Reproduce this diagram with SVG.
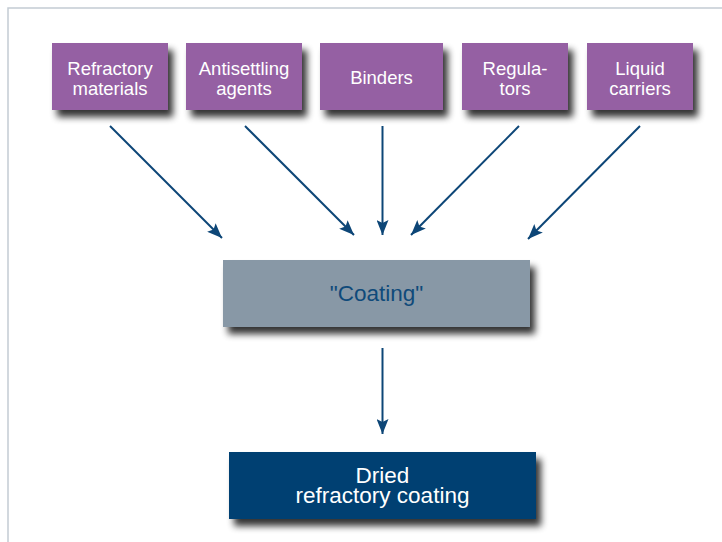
<svg xmlns="http://www.w3.org/2000/svg" width="722" height="542" viewBox="0 0 722 542">
  <defs>
    <filter id="shadow" x="-10%" y="-20%" width="130%" height="170%">
      <feGaussianBlur in="SourceAlpha" stdDeviation="3.5"/>
      <feOffset dx="5" dy="7" result="blur"/>
      <feComponentTransfer><feFuncA type="linear" slope="0.8"/></feComponentTransfer>
      <feMerge><feMergeNode/><feMergeNode in="SourceGraphic"/></feMerge>
    </filter>
    <marker id="arrow" viewBox="0 0 15 12" refX="15" refY="6" markerWidth="15" markerHeight="12" markerUnits="userSpaceOnUse" orient="auto">
      <path d="M0,0 L15,6 L0,12 L3,6 Z" fill="#0d4677"/>
    </marker>
    <style>
      .src rect { fill: #9560a3; filter: url(#shadow); }
      .src text { fill: #ffffff; font-family: "Liberation Sans", Arial, sans-serif; font-size: 18.5px; text-anchor: middle; }
      .mid rect { fill: #8898a6; filter: url(#shadow); }
      .mid text { fill: #0f4a7a; font-family: "Liberation Sans", Arial, sans-serif; font-size: 22.5px; text-anchor: middle; }
      .out rect { fill: #003f72; filter: url(#shadow); }
      .out text { fill: #ffffff; font-family: "Liberation Sans", Arial, sans-serif; font-size: 22.5px; text-anchor: middle; }
      .link { stroke: #0d4677; stroke-width: 2; fill: none; marker-end: url(#arrow); }
      .frame { stroke: #c3ccd4; stroke-width: 1.5; fill: none; }
    </style>
  </defs>

  <rect width="722" height="542" fill="#ffffff"/>
  <path class="frame" d="M8,542 V8 H722"/>

  <!-- input components -->
  <g id="refractory" class="src">
    <rect x="52" y="43" width="116" height="67"/>
    <text x="110" y="75">Refractory</text>
    <text x="110" y="95">materials</text>
  </g>
  <g id="antisettling" class="src">
    <rect x="186" y="43" width="116" height="67"/>
    <text x="244" y="75">Antisettling</text>
    <text x="244" y="95">agents</text>
  </g>
  <g id="binders" class="src">
    <rect x="320" y="43" width="123" height="67"/>
    <text x="381.5" y="84">Binders</text>
  </g>
  <g id="regulators" class="src">
    <rect x="462" y="43" width="106" height="67"/>
    <text x="515" y="75">Regula-</text>
    <text x="515" y="95">tors</text>
  </g>
  <g id="liquid" class="src">
    <rect x="587" y="43" width="106" height="67"/>
    <text x="640" y="75">Liquid</text>
    <text x="640" y="95">carriers</text>
  </g>

  <!-- mixture -->
  <g id="coating" class="mid">
    <rect x="223" y="260" width="307" height="67"/>
    <text x="376.5" y="301">"Coating"</text>
  </g>

  <!-- final product -->
  <g id="dried" class="out">
    <rect x="229" y="452" width="307" height="67"/>
    <text x="382.5" y="483">Dried</text>
    <text x="382.5" y="503">refractory coating</text>
  </g>

  <g id="connectors">
    <line class="link" x1="110" y1="126" x2="222" y2="238"/>
    <line class="link" x1="245" y1="126" x2="354" y2="235"/>
    <line class="link" x1="382.5" y1="126" x2="382.5" y2="235"/>
    <line class="link" x1="519" y1="126" x2="411" y2="235"/>
    <line class="link" x1="640" y1="126" x2="528" y2="239"/>
    <line class="link" x1="382.5" y1="348" x2="382.5" y2="434"/>
  </g>
</svg>
